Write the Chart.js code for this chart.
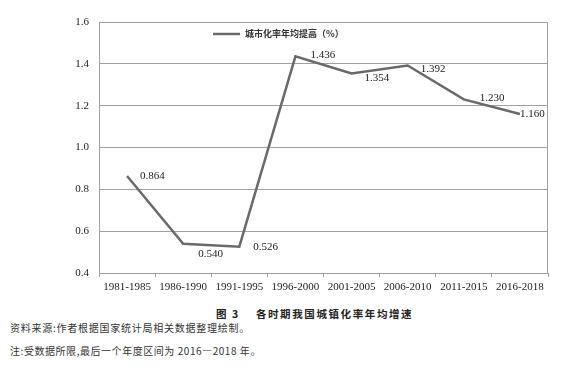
<!DOCTYPE html>
<html lang="zh">
<head>
<meta charset="UTF-8">
<title>各时期我国城镇化率年均增速</title>
<script src="https://cdn.jsdelivr.net/npm/chart.js"></script>
<style>
  body { margin: 0; background: #fff; width: 576px; height: 366px; overflow: hidden; position: relative; }
  .wrap { position: absolute; left: 0; top: 0; width: 576px; height: 300px; }
  .cap { position: absolute; font-family: "Noto Sans CJK SC", sans-serif; color: #333; white-space: nowrap; }
  #title { left: 216px; top: 306px; font-size: 10.5px; font-weight: bold; letter-spacing: 1.6px; color: #222; }
  #title span { margin-left: 16px; }
  #src { left: 10px; top: 320px; font-size: 10px; letter-spacing: 0.75px; }
  #note { left: 10px; top: 343px; font-size: 10px; letter-spacing: 0.55px; }
</style>
</head>
<body>
<div class="wrap"><canvas id="c" width="576" height="300"></canvas></div>
<div class="cap" id="title">图 3<span>各时期我国城镇化率年均增速</span></div>
<div class="cap" id="src">资料来源:作者根据国家统计局相关数据整理绘制。</div>
<div class="cap" id="note">注:受数据所限,最后一个年度区间为 2016—2018 年。</div>
<script>
const periods = ['1981-1985', '1986-1990', '1991-1995', '1996-2000', '2001-2005', '2006-2010', '2011-2015', '2016-2018'];
const growth = [0.864, 0.540, 0.526, 1.436, 1.354, 1.392, 1.230, 1.160];
const seriesName = '城市化率年均提高（%）';

// label offsets from each point (dx, dy) in px
const labelShift = [[13, 0], [15, 10], [14, 0], [15, -1], [13, 5], [13, 4], [16, -1], [0, 0]];

const serif = '"Liberation Serif", "Times New Roman", serif';

const frame = {
  id: 'frame',
  beforeDatasetsDraw(chart) {
    const { ctx, chartArea: a } = chart;
    ctx.save();
    ctx.strokeStyle = '#a0a0a0';
    ctx.lineWidth = 1;
    ctx.strokeRect(a.left + 0.5, a.top + 0.5, a.right - a.left - 1, a.bottom - a.top);
    ctx.restore();
  },
  afterDatasetsDraw(chart) {
    const { ctx } = chart;
    const pts = chart.getDatasetMeta(0).data;
    ctx.save();
    ctx.fillStyle = '#222';
    ctx.font = '11px ' + serif;
    ctx.textAlign = 'left';
    ctx.textBaseline = 'middle';
    pts.forEach((p, i) => {
      ctx.fillText(growth[i].toFixed(3), p.x + labelShift[i][0], p.y + labelShift[i][1]);
    });
    // legend
    ctx.strokeStyle = '#6a6a6a';
    ctx.lineWidth = 2.5;
    ctx.beginPath();
    ctx.moveTo(213, 34);
    ctx.lineTo(240, 34);
    ctx.stroke();
    ctx.fillStyle = '#333';
    ctx.font = 'bold 9px "Noto Sans CJK SC", sans-serif';
    ctx.fillText(seriesName, 245, 34);
    ctx.restore();
  }
};

new Chart(document.getElementById('c'), {
  type: 'line',
  data: {
    labels: periods,
    datasets: [{
      label: seriesName,
      data: growth,
      borderColor: '#6a6a6a',
      borderWidth: 2.5,
      pointRadius: 0,
      tension: 0,
      fill: false
    }]
  },
  options: {
    responsive: false,
    animation: false,
    layout: { padding: { top: 22, right: 28, left: 0, bottom: 0 } },
    plugins: { legend: { display: false }, tooltip: { enabled: false } },
    scales: {
      x: {
        offset: true,
        grid: { offset: true, drawOnChartArea: false, drawTicks: true, tickLength: 4, color: '#a0a0a0' },
        border: { display: true, color: '#a0a0a0' },
        ticks: { color: '#222', font: { family: serif, size: 11 }, padding: 4, maxRotation: 0, autoSkip: false },
        afterFit(s) { s.height = 27; }
      },
      y: {
        min: 0.4,
        max: 1.6,
        ticks: { stepSize: 0.2, color: '#222', font: { family: serif, size: 11 }, padding: 10,
          callback: v => v.toFixed(1) },
        grid: { color: '#a0a0a0', drawTicks: false },
        border: { display: true, color: '#a0a0a0' },
        afterFit(s) { s.width = 99; }
      }
    }
  },
  plugins: [frame]
});
</script>
</body>
</html>
